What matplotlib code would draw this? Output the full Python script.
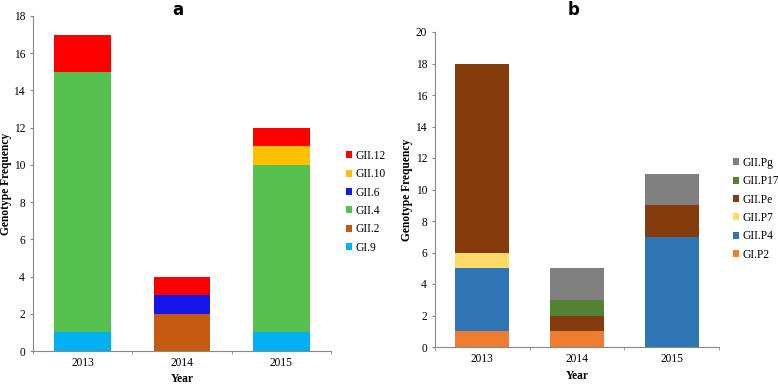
import numpy as np
import matplotlib
matplotlib.use("Agg")
import matplotlib.pyplot as plt

years = ["2013", "2014", "2015"]

# panel a: genotypes (bottom to top)
geno_a = ["GI.9", "GII.2", "GII.4", "GII.6", "GII.10", "GII.12"]
vals_a = {
    "GI.9":   [1, 0, 1],
    "GII.2":  [0, 2, 0],
    "GII.4":  [14, 0, 9],
    "GII.6":  [0, 1, 0],
    "GII.10": [0, 0, 1],
    "GII.12": [2, 1, 1],
}
cols_a = ["#00B0F0", "#C55A11", "#57C150", "#1616E8", "#FFC000", "#FF0000"]

# panel b: polymerase types (bottom to top)
geno_b = ["GI.P2", "GII.P4", "GII.P7", "GII.Pe", "GII.P17", "GII.Pg"]
vals_b = {
    "GI.P2":   [1, 1, 0],
    "GII.P4":  [4, 0, 7],
    "GII.P7":  [1, 0, 0],
    "GII.Pe":  [12, 1, 2],
    "GII.P17": [0, 1, 0],
    "GII.Pg":  [0, 2, 2],
}
cols_b = ["#ED7D31", "#2E75B6", "#FFD966", "#843C0C", "#548235", "#808080"]

plt.rcParams["font.family"] = ["Liberation Serif", "DejaVu Serif"]

fig = plt.figure(figsize=(7.78, 3.84), dpi=100)
W, H = 778, 384


def panel(rect, cats, vals, cols, ymax, title, title_x, leg_xy, ylab_x, xlab_y):
    ax = fig.add_axes([rect[0] / W, 1 - rect[3] / H, (rect[2] - rect[0]) / W,
                       (rect[3] - rect[1]) / H])
    x = np.arange(len(years))
    bottom = np.zeros(len(years))
    handles = []
    for g, c in zip(cats, cols):
        v = np.array(vals[g], dtype=float)
        b = ax.bar(x, v, 0.57, bottom=bottom, color=c, label=g, linewidth=0)
        handles.append(b)
        bottom += v
    ax.set_xlim(-0.5, len(years) - 0.5)
    ax.set_ylim(0, ymax)
    ax.set_yticks(np.arange(0, ymax + 1, 2))
    ax.set_xticks(x)
    ax.set_xticklabels(years)
    ax.set_xticks(np.arange(-0.5, len(years), 1), minor=True)
    ax.tick_params(axis="x", which="major", length=0, labelsize=8.3, pad=4.5)
    ax.tick_params(axis="x", which="minor", length=2.5, color="#888888")
    ax.tick_params(axis="y", length=2.2, labelsize=8.3, color="#888888", pad=3.5)
    for s in ["top", "right"]:
        ax.spines[s].set_visible(False)
    for s in ["left", "bottom"]:
        ax.spines[s].set_color("#888888")
    ax.set_ylabel("Genotype Frequency", fontweight="bold", fontsize=8.3)
    ax.set_xlabel("Year", fontweight="bold", fontsize=8.3)
    ax.yaxis.set_label_coords(ylab_x / W, 1 - (rect[1] + rect[3]) / 2 / H,
                              transform=fig.transFigure)
    ax.xaxis.set_label_coords(((rect[0] + rect[2]) / 2) / W, 1 - xlab_y / H,
                              transform=fig.transFigure)
    ax.xaxis.label.set_va("center")
    ax.yaxis.label.set_va("center")
    fig.text(title_x / W, 1 - 10 / H, title, fontweight="bold", fontsize=12,
             family="DejaVu Sans", ha="center", va="center")
    ax.legend(handles[::-1], cats[::-1], loc="upper left", frameon=False,
              bbox_to_anchor=(leg_xy[0] / W, 1 - leg_xy[1] / H),
              bbox_transform=fig.transFigure, fontsize=8.3,
              handlelength=0.55, handleheight=0.55, handletextpad=0.3,
              labelspacing=0.55, borderaxespad=0, borderpad=0)
    return ax


panel((33, 16, 331, 351), geno_a, vals_a, cols_a, 18, "a", 178, (346, 150), 6, 379)
panel((435, 32, 719, 347), geno_b, vals_b, cols_b, 20, "b", 574, (733, 157), 407, 376)

fig.savefig("out.png", dpi=100)
